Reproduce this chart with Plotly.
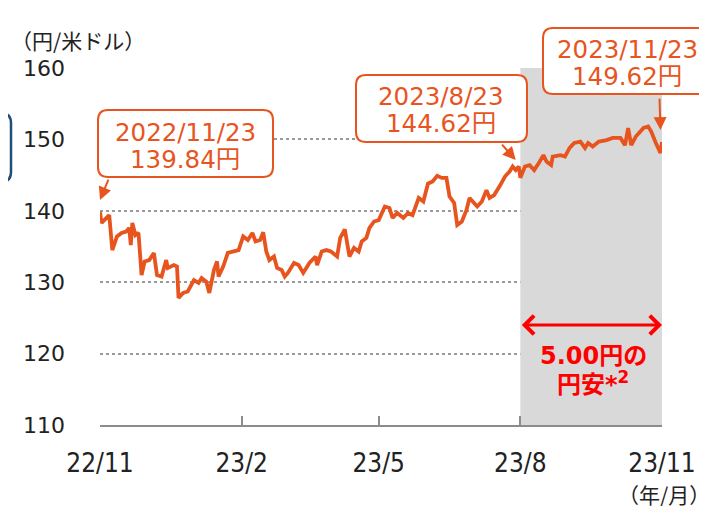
import plotly.graph_objects as go

# ---------------- data ----------------
dates = [
    "2022-11-23", "2022-11-24", "2022-11-29", "2022-12-01", "2022-12-04", "2022-12-07",
    "2022-12-10", "2022-12-12", "2022-12-13", "2022-12-14", "2022-12-16", "2022-12-18",
    "2022-12-20", "2022-12-22", "2022-12-25", "2022-12-28", "2022-12-30", "2023-01-02",
    "2023-01-05", "2023-01-06", "2023-01-10", "2023-01-12", "2023-01-13", "2023-01-16",
    "2023-01-19", "2023-01-23", "2023-01-26", "2023-01-28", "2023-01-31", "2023-02-02",
    "2023-02-05", "2023-02-07", "2023-02-08", "2023-02-11", "2023-02-14", "2023-02-18",
    "2023-02-21", "2023-02-24", "2023-02-27", "2023-03-02", "2023-03-04", "2023-03-07",
    "2023-03-09", "2023-03-11", "2023-03-13", "2023-03-16", "2023-03-18", "2023-03-21",
    "2023-03-23", "2023-03-25", "2023-03-29", "2023-04-01", "2023-04-04", "2023-04-08",
    "2023-04-12", "2023-04-13", "2023-04-16", "2023-04-19", "2023-04-22", "2023-04-26",
    "2023-04-28", "2023-05-01", "2023-05-04", "2023-05-07", "2023-05-10", "2023-05-12",
    "2023-05-15", "2023-05-17", "2023-05-20", "2023-05-23", "2023-05-27", "2023-05-30",
    "2023-06-01", "2023-06-04", "2023-06-08", "2023-06-11", "2023-06-14", "2023-06-18",
    "2023-06-21", "2023-06-24", "2023-06-27", "2023-06-30", "2023-07-03", "2023-07-06",
    "2023-07-08", "2023-07-11", "2023-07-13", "2023-07-16", "2023-07-19", "2023-07-21",
    "2023-07-26", "2023-07-29", "2023-08-01", "2023-08-03", "2023-08-06", "2023-08-10",
    "2023-08-13", "2023-08-16", "2023-08-18", "2023-08-20", "2023-08-22", "2023-08-23",
    "2023-08-26", "2023-08-29", "2023-09-01", "2023-09-04", "2023-09-07", "2023-09-09",
    "2023-09-12", "2023-09-13", "2023-09-18", "2023-09-21", "2023-09-24", "2023-09-27",
    "2023-10-01", "2023-10-04", "2023-10-06", "2023-10-09", "2023-10-13", "2023-10-18",
    "2023-10-22", "2023-10-27", "2023-10-30", "2023-11-01", "2023-11-03", "2023-11-06",
    "2023-11-11", "2023-11-14", "2023-11-16", "2023-11-19", "2023-11-22", "2023-11-23",
]
usd_jpy = [
    139.84, 138.3, 139.4, 134.5, 136.4, 136.9,
    137.1, 137.6, 135.2, 138.3, 136.6, 136.9,
    131.0, 132.9, 133.1, 134.1, 131.0, 130.8,
    133.1, 132.0, 132.4, 132.2, 127.8, 128.5,
    128.7, 130.3, 129.9, 130.6, 130.1, 128.5,
    131.7, 132.9, 130.8, 132.2, 134.1, 134.3,
    134.5, 136.4, 135.9, 136.9, 135.7, 135.9,
    137.0, 134.3, 133.1, 133.6, 132.0, 131.7,
    130.8, 131.3, 132.7, 132.4, 131.3, 132.7,
    133.6, 132.4, 134.3, 134.5, 134.3, 133.6,
    136.2, 137.4, 133.6, 134.8, 134.3, 135.7,
    136.2, 137.6, 138.5, 138.7, 140.6, 140.4,
    139.0, 139.7, 139.0, 139.7, 139.4, 141.8,
    141.3, 143.8, 144.1, 144.9, 144.6, 144.6,
    142.0, 141.1, 138.0, 138.5, 140.1, 141.8,
    140.6, 141.3, 142.9, 141.8, 142.2, 143.6,
    144.8, 145.5, 146.2, 145.7, 146.2, 144.62,
    146.2, 146.4, 145.7, 146.7, 147.8, 146.9,
    146.4, 147.6, 147.8, 147.6, 148.8, 149.5,
    149.7, 148.8, 149.5, 149.0, 149.7, 149.9,
    150.2, 150.2, 149.2, 151.6, 149.2, 150.4,
    151.6, 151.8, 151.1, 149.5, 148.1, 149.62,
]
x_tick_dates = ["2022-11-23", "2023-02-23", "2023-05-23", "2023-08-23", "2023-11-23"]
x_tick_labels = ["22/11", "23/2", "23/5", "23/8", "23/11"]
y_ticks = [110, 120, 130, 140, 150, 160]
callout_dates = ["2022/11/23", "2023/8/23", "2023/11/23"]
callout_values = ["139.84円", "144.62円", "149.62円"]
span_start, span_end = "2023-08-23", "2023-11-23"
span_label = ["5.00円の", "円安*<sup>2</sup>"]
y_unit = "（円/米ドル）"
x_unit = "（年/月）"

# ---------------- layout helpers ----------------
W, H = 707, 506
OFF = 8                      # page body margin
PX0, PY0, PX1, PY1 = 100, 68, 662, 425   # plot area in window pixels
PW, PH = PX1 - PX0, PY1 - PY0
L, T = PX0 - OFF, PY0 - OFF
R, B = W - L - PW, H - T - PH
ORANGE = "#E8541E"
CJK = "Noto Sans CJK JP"
LAT = "DejaVu Sans, Noto Sans CJK JP"


def fx(X):
    return (X - PX0) / PW


def fy(Y):
    return (PY1 - Y) / PH


def rrect(x0, y0, x1, y1, r):
    X0, X1 = x0 - PX0, x1 - PX0
    Y0, Y1 = PY1 - y0, PY1 - y1
    return (f"M{X0+r},{Y0} L{X1-r},{Y0} Q{X1},{Y0} {X1},{Y0-r} L{X1},{Y1+r} "
            f"Q{X1},{Y1} {X1-r},{Y1} L{X0+r},{Y1} Q{X0},{Y1} {X0},{Y1+r} "
            f"L{X0},{Y0-r} Q{X0},{Y0} {X0+r},{Y0} Z")


def box_shape(x0, y0, x1, y1, color, fill="white", width=2):
    return dict(type="path", xref="paper", yref="paper", xsizemode="pixel",
                ysizemode="pixel", xanchor=0, yanchor=0,
                path=rrect(x0, y0, x1, y1, 10), line=dict(color=color, width=width),
                fillcolor=fill, layer="above")


fig = go.Figure()
fig.add_trace(go.Scatter(x=dates, y=usd_jpy, mode="lines",
                         line=dict(color=ORANGE, width=3.8), hoverinfo="skip"))

shapes = [
    dict(type="rect", xref="x", yref="y", x0=span_start, x1=span_end, y0=110, y1=160,
         fillcolor="#D9D9D9", line=dict(width=0), layer="between"),
    box_shape(98, 110, 273, 177, ORANGE),
    box_shape(356, 75, 527, 142, ORANGE),
    box_shape(543, 28, 712, 94, ORANGE),
    box_shape(-60, 113, 11, 182, "#1F4E79", fill="rgba(0,0,0,0)", width=2.5),
]

ann = []
for (xc, y1, y2), d, v in zip([(185, 132, 159), (441, 96, 123), (627, 50, 76)],
                              callout_dates, callout_values):
    for yy, t in ((y1, d), (y2, v)):
        ann.append(dict(xref="paper", yref="paper", x=fx(xc), y=fy(yy), text=t,
                        showarrow=False, xanchor="center", yanchor="middle",
                        font=dict(family=LAT, size=24.5, color=ORANGE)))
for hx, hy, ax, ay in [("2022-11-23", 141.5, 9, -22),
                       ("2023-08-20", 147.1, -15, -17),
                       ("2023-11-22", 151.3, -1, -33)]:
    ann.append(dict(x=hx, y=hy, xref="x", yref="y", ax=ax, ay=ay, text="",
                    showarrow=True, arrowhead=2, arrowsize=1.3, arrowwidth=2,
                    arrowcolor=ORANGE, standoff=0))
ann.append(dict(x=span_end, y=124.0, ax=span_start, ay=124.0, xref="x", yref="y",
                axref="x", ayref="y", text="", showarrow=True, arrowside="end+start",
                arrowhead=4, startarrowhead=4, arrowsize=1.2, startarrowsize=1.2,
                arrowwidth=3, arrowcolor="#FF0000"))
for yy, t in ((356, span_label[0]), (383, span_label[1])):
    ann.append(dict(xref="paper", yref="paper", x=fx(593), y=fy(yy), text=f"<b>{t}</b>",
                    showarrow=False, xanchor="center", yanchor="middle",
                    font=dict(family=LAT, size=24, color="#FF0000")))
ann.append(dict(xref="paper", yref="paper", x=fx(8.5), y=fy(40), text=y_unit,
                showarrow=False, xanchor="left", yanchor="middle",
                font=dict(family=CJK, size=21, color="#222222")))
ann.append(dict(xref="paper", yref="paper", x=fx(616), y=fy(494), text=x_unit,
                showarrow=False, xanchor="left", yanchor="middle",
                font=dict(family=CJK, size=21, color="#222222")))

fig.update_layout(
    width=W, height=H, margin=dict(l=L, r=R, t=T, b=B),
    paper_bgcolor="white", plot_bgcolor="white", showlegend=False,
    shapes=shapes, annotations=ann,
    xaxis=dict(type="date", range=["2022-11-23", "2023-11-23"], tickvals=x_tick_dates,
               ticktext=x_tick_labels, showgrid=False, showline=True,
               linecolor="#8C8C8C", linewidth=2, ticks="inside", ticklen=9,
               tickwidth=2, tickcolor="#8C8C8C", ticklabelstandoff=14,
               tickfont=dict(family="DejaVu Sans Condensed, DejaVu Sans", size=26,
                             color="#222222"), zeroline=False),
    yaxis=dict(range=[110, 160], tickvals=y_ticks, showgrid=True, gridcolor="#9A9A9A",
               gridwidth=2, griddash="dot", showline=False, zeroline=False,
               ticks="", ticklabelstandoff=34,
               tickfont=dict(family="DejaVu Sans", size=22, color="#222222")),
)

fig.write_html("out.html")
